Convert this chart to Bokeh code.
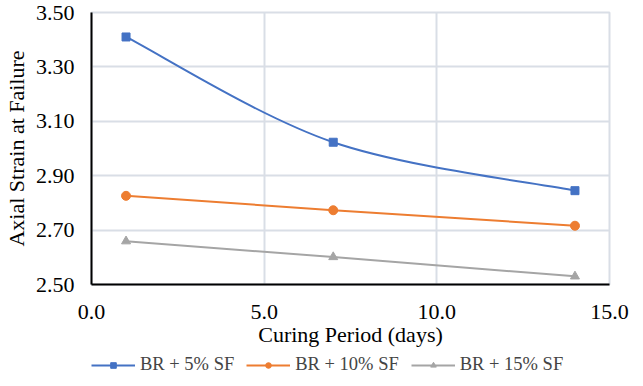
import numpy as np
from bokeh.plotting import figure
from bokeh.layouts import column
from bokeh.models import (ColumnDataSource, FixedTicker, NumeralTickFormatter,
                          Legend, LegendItem, Range1d)
from bokeh.embed import file_html
from bokeh.resources import INLINE

# ---- data ----
days = [1, 7, 14]
sf5 = [3.41, 3.023, 2.845]
sf10 = [2.826, 2.773, 2.716]
sf15 = [2.659, 2.601, 2.530]
labels = ["BR + 5% SF", "BR + 10% SF", "BR + 15% SF"]
colors = ["#4472C4", "#ED7D31", "#A5A5A5"]
markers = ["square", "circle", "triangle"]
x_ticks = [0, 5, 10, 15]
y_ticks = [2.5, 2.7, 2.9, 3.1, 3.3, 3.5]

FONT = "Liberation Serif"
GRID = "#D9DEE6"

p = figure(frame_width=518, frame_height=272, output_backend="svg", toolbar_location=None,
           x_range=Range1d(0, 15), y_range=Range1d(2.5, 3.5),
           min_border_left=0, min_border_right=21, min_border_top=12,
           min_border_bottom=0)

# smooth (Catmull-Rom style) bezier for the 5% series
xs = np.array(days, dtype=float)
ys = np.array(sf5, dtype=float)
px = np.concatenate([[xs[0]], xs, [xs[-1]]])
py = np.concatenate([[ys[0]], ys, [ys[-1]]])
bz = dict(x0=[], y0=[], x1=[], y1=[], cx0=[], cy0=[], cx1=[], cy1=[])
for i in range(len(xs) - 1):
    j = i + 1
    bz["x0"].append(px[j]); bz["y0"].append(py[j])
    bz["x1"].append(px[j + 1]); bz["y1"].append(py[j + 1])
    bz["cx0"].append(px[j] + (px[j + 1] - px[j - 1]) / 6)
    bz["cy0"].append(py[j] + (py[j + 1] - py[j - 1]) / 6)
    bz["cx1"].append(px[j + 1] - (px[j + 2] - px[j]) / 6)
    bz["cy1"].append(py[j + 1] - (py[j + 2] - py[j]) / 6)
p.bezier(source=ColumnDataSource(bz), x0="x0", y0="y0", x1="x1", y1="y1",
         cx0="cx0", cy0="cy0", cx1="cx1", cy1="cy1",
         line_color=colors[0], line_width=2)
p.scatter(days, sf5, marker=markers[0], size=8, color=colors[0])

p.line(days, sf10, line_color=colors[1], line_width=2)
p.scatter(days, sf10, marker=markers[1], size=9, color=colors[1])

p.line(days, sf15, line_color=colors[2], line_width=2)
p.scatter(days, sf15, marker=markers[2], size=9, color=colors[2])

# axes
p.xaxis.ticker = FixedTicker(ticks=x_ticks)
p.yaxis.ticker = FixedTicker(ticks=y_ticks)
p.xaxis.formatter = NumeralTickFormatter(format="0.0")
p.yaxis.formatter = NumeralTickFormatter(format="0.00")
for ax in (p.xaxis, p.yaxis):
    ax.major_tick_line_color = None
    ax.minor_tick_line_color = None
    ax.major_tick_out = 0
    ax.major_tick_in = 0
    ax.axis_line_color = "black"
    ax.axis_line_width = 2
    ax.major_label_text_font = FONT
    ax.major_label_text_font_size = "22px"
    ax.major_label_text_color = "black"
    ax.axis_label_text_font = FONT
    ax.axis_label_text_font_size = "22px"
    ax.axis_label_text_font_style = "normal"
    ax.axis_label_text_color = "black"
p.xaxis.axis_label = "Curing Period (days)"
p.yaxis.axis_label = "Axial Strain at Failure"
p.xaxis.major_label_standoff = 20
p.yaxis.major_label_standoff = 17
p.xaxis.axis_label_standoff = 0
p.yaxis.axis_label_standoff = 4

p.xgrid.ticker = FixedTicker(ticks=x_ticks)
p.ygrid.ticker = FixedTicker(ticks=y_ticks)
p.grid.grid_line_color = GRID
p.grid.grid_line_width = 2
p.outline_line_color = GRID
p.outline_line_width = 2

# ---- legend strip (separate small figure, frame aligned with main) ----
lg = figure(width=625, height=28, output_backend="svg", toolbar_location=None,
            x_range=Range1d(0, 1), y_range=Range1d(0, 1),
            min_border=0, x_axis_type=None, y_axis_type=None)
lg.grid.visible = False
lg.outline_line_color = None
items = []
for lab, col, mk in zip(labels, colors, markers):
    rl = lg.line([-5, -4], [-5, -4], line_color=col, line_width=2)
    rm = lg.scatter([-5], [-5], marker=mk, size=7, color=col)
    items.append(LegendItem(label=lab, renderers=[rl, rm]))
legend = Legend(items=items, orientation="horizontal", location=(0, 2),
                label_text_font=FONT, label_text_font_size="18.5px",
                glyph_width=44, glyph_height=14, label_standoff=5, spacing=12,
                padding=0, margin=0, border_line_color=None,
                background_fill_alpha=0)
lg.add_layout(legend, "center")

open("out.html", "w").write(file_html(column(p, lg, spacing=0), INLINE))
